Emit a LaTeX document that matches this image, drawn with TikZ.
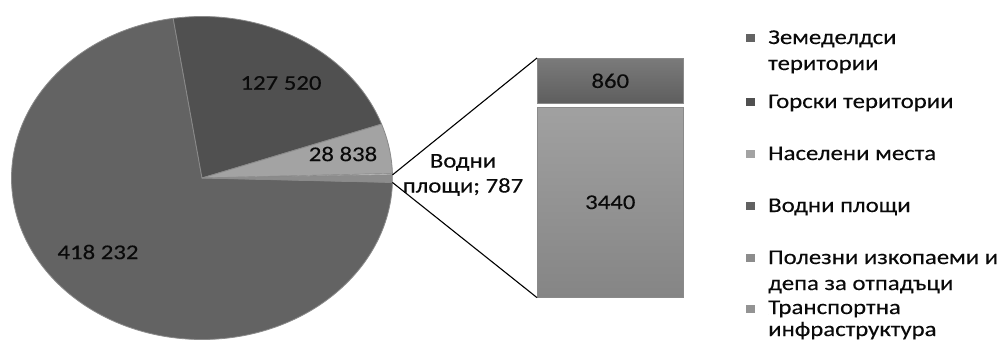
\documentclass[tikz,border=0pt]{standalone}
\usepackage{fontspec}
\setmainfont{Carlito}[FakeStretch=1.18,FakeBold=0.25]
\definecolor{cAgri}{HTML}{636363}
\definecolor{cForest}{HTML}{505050}
\definecolor{cSettl}{HTML}{A3A3A3}
\definecolor{cWater}{HTML}{BDBDBD}
\definecolor{cOther}{HTML}{8C8C8C}
\definecolor{cEdge}{HTML}{8A8A8A}
\definecolor{cText}{HTML}{0A0A0A}
\tikzset{
  slice/.style={draw=cEdge, line width=0.8pt, line join=round},
  lbl/.style={inner sep=0pt, text=cText, font=\fontsize{21}{25}\selectfont},
  legtxt/.style={lbl, anchor=base west},
  legsq/.style={draw=none, minimum width=9pt, minimum height=8.5pt, inner sep=0pt},
  barseg/.style={draw=cEdge, line width=0.6pt, anchor=north west, minimum width=146pt, inner sep=0pt, text=cText, font=\fontsize{21}{25}\selectfont},
  conn/.style={draw=black, line width=1.1pt}
}
\begin{document}
\begin{tikzpicture}[x=1pt,y=1pt]
\useasboundingbox (0,0) rectangle (1001,-341);
\fill[white] (0,0) rectangle (1001,-341);
% pie
\coordinate (c) at (202,-178);
\filldraw[slice, fill=cAgri] (c) -- ++(-1.57:190.5 and 161.5) arc[start angle=-1.57, end angle=-261.3, x radius=190.5, y radius=161.5] -- cycle;
\filldraw[slice, fill=cForest] (c) -- ++(98.7:190.5 and 161.5) arc[start angle=98.7, end angle=19.5, x radius=190.5, y radius=161.5] -- cycle;
\filldraw[slice, fill=cSettl] (c) -- ++(19.5:190.5 and 161.5) arc[start angle=19.5, end angle=1.6, x radius=190.5, y radius=161.5] -- cycle;
\filldraw[slice, fill=cWater, line width=0.4pt] (c) -- ++(1.6:190.5 and 161.5) arc[start angle=1.6, end angle=1.1, x radius=190.5, y radius=161.5] -- cycle;
\filldraw[slice, fill=cOther, line width=0.5pt] (c) -- ++(1.1:190.5 and 161.5) arc[start angle=1.1, end angle=-1.57, x radius=190.5, y radius=161.5] -- cycle;
\path (c) ++(1.1:190.5 and 161.5) coordinate (pu);
\path (c) ++(-1.57:190.5 and 161.5) coordinate (pl);
% pie labels
\node[lbl] (l127) at (281,-83) {127 520};
\node[lbl] (l28) at (343,-154) {28 838};
\node[lbl] (l418) at (98,-252) {418 232};
\node[lbl, align=center] (lwater) at (463,-175) {Водни\\площи; 787};
% bar
\node[barseg, top color=cAgri!85!white, bottom color=cAgri!95!black, minimum height=45pt] (b860) at (537,-58) {860};
\node[barseg, top color=cOther!82!white, bottom color=cOther!95!black, minimum height=190pt] (b3440) at (537,-107) {3440};
% connectors
\draw[conn] (pu) -- (b860.north west);
\draw[conn] (pl) -- (b3440.south west);
% legend
\node[legsq, fill=cAgri] (s1) at (750,-38) {};
\node[legtxt] (t1a) at (768,-44) {Земеделдси};
\node[legtxt] (t1b) at (768,-70) {територии};
\node[legsq, fill=cForest] (s2) at (750,-102) {};
\node[legtxt] (t2) at (768,-108) {Горски територии};
\node[legsq, fill=cSettl] (s3) at (750,-154) {};
\node[legtxt] (t3) at (768,-160) {Населени места};
\node[legsq, fill=cForest!90!white] (s4) at (750,-206) {};
\node[legtxt] (t4) at (768,-212) {Водни площи};
\node[legsq, fill=cOther] (s5) at (750,-258) {};
\node[legtxt] (t5a) at (768,-264) {Полезни изкопаеми и};
\node[legtxt] (t5b) at (768,-290) {депа за отпадъци};
\node[legsq, fill=cSettl!90!black] (s6) at (750,-309) {};
\node[legtxt] (t6a) at (768,-314) {Транспортна};
\node[legtxt] (t6b) at (768,-336) {инфраструктура};
\end{tikzpicture}
\end{document}
